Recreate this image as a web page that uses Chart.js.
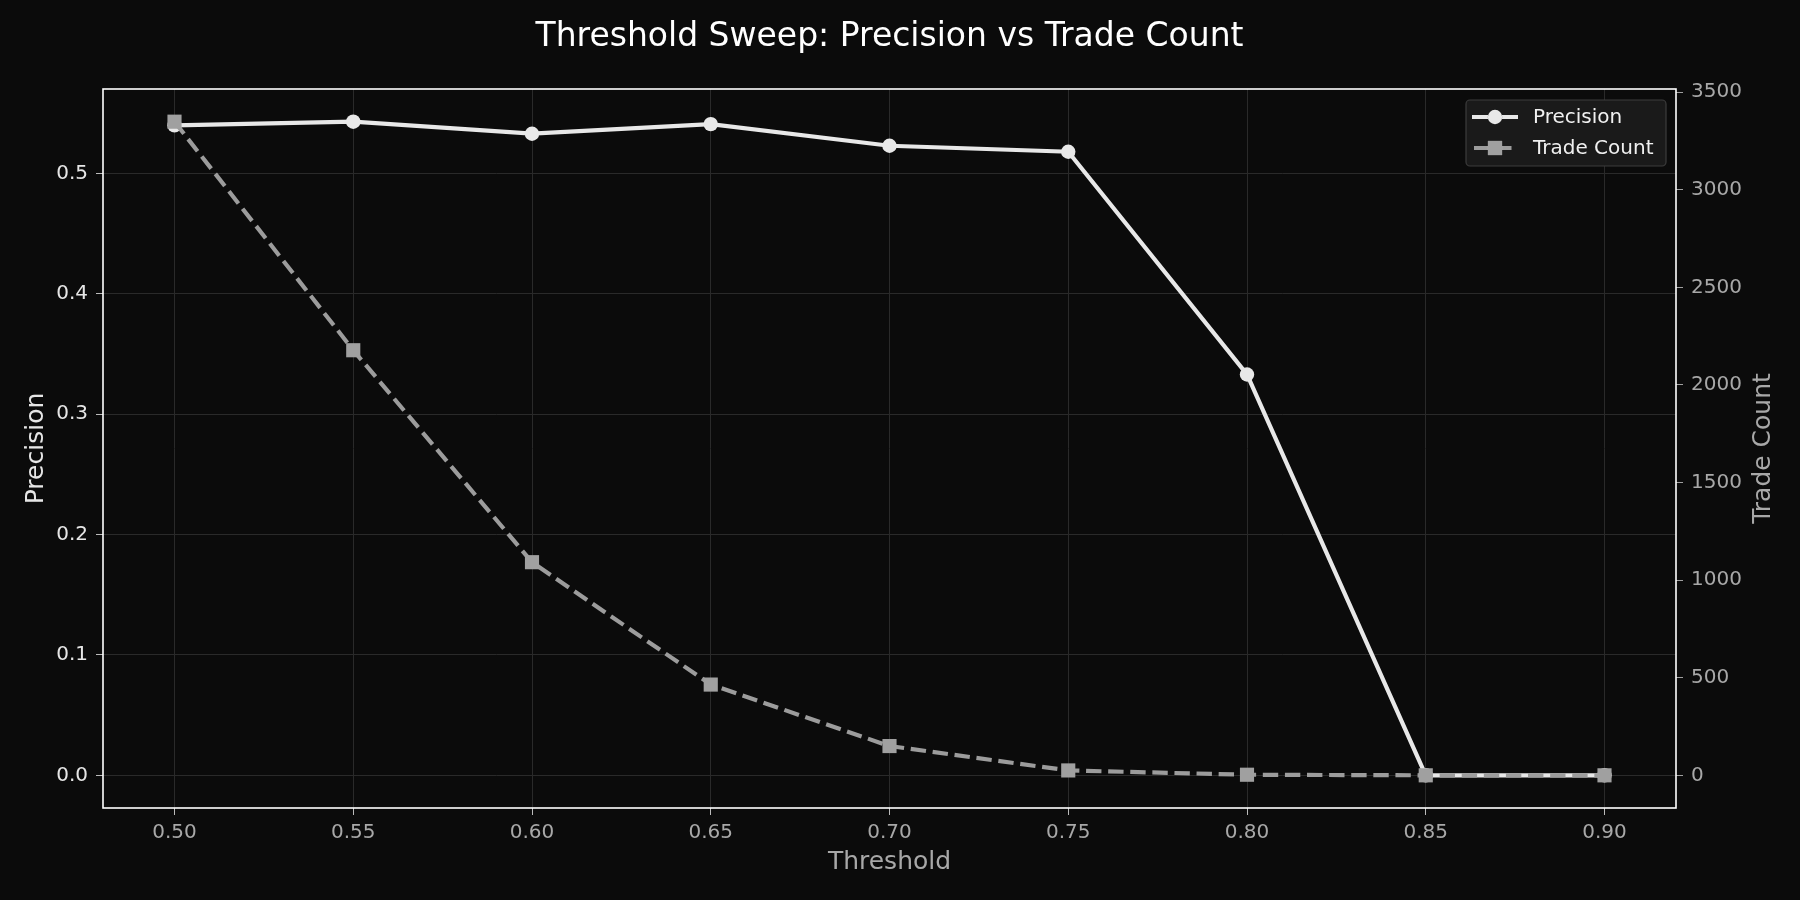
<!DOCTYPE html>
<html>
<head>
<meta charset="utf-8">
<script src="https://cdn.jsdelivr.net/npm/chart.js@4.4.1/dist/chart.umd.min.js"></script>
<style>
  html, body { margin: 0; padding: 0; background: #0b0b0b; }
  #wrap { width: 1800px; height: 900px; }
</style>
</head>
<body>
<div id="wrap"><canvas id="sweepChart" width="1800" height="900"></canvas></div>
<script>
const thresholds = [0.50, 0.55, 0.60, 0.65, 0.70, 0.75, 0.80, 0.85, 0.90];
const precision = [0.540, 0.543, 0.533, 0.541, 0.523, 0.518, 0.333, 0.0, 0.0];
const tradeCount = [3349, 2178, 1092, 465, 150, 25, 3, 0, 0];

const xTicks = [0.50, 0.55, 0.60, 0.65, 0.70, 0.75, 0.80, 0.85, 0.90];
const precisionTicks = [0.0, 0.1, 0.2, 0.3, 0.4, 0.5];
const countTicks = [0, 500, 1000, 1500, 2000, 2500, 3000, 3500];

const FONT = "'DejaVu Sans', sans-serif";
const GRID = '#2a2a2a';

// matplotlib style 5% margins
function padRange(vals) {
    const lo = Math.min(...vals), hi = Math.max(...vals);
    const m = (hi - lo) * 0.05;
    return { min: lo - m, max: hi + m };
}
const xr = padRange(thresholds);
const pr = padRange(precision);
const cr = padRange(tradeCount);

function toPoints(ys) {
    return thresholds.map((x, i) => ({ x, y: ys[i] }));
}

function fixedTicks(list) {
    return scale => { scale.ticks = list.map(v => ({ value: v })); };
}

// title centered over the plot area + right axis label reading upwards
const textPlugin = {
    id: 'extraText',
    afterDraw(chart) {
        const { ctx, chartArea } = chart;
        ctx.save();
        ctx.fillStyle = '#ffffff';
        ctx.font = `33px ${FONT}`;
        ctx.textAlign = 'center';
        ctx.textBaseline = 'middle';
        ctx.fillText('Threshold Sweep: Precision vs Trade Count', (chartArea.left + chartArea.right) / 2, 37);

        ctx.translate(1763, (chartArea.top + chartArea.bottom) / 2);
        ctx.rotate(-Math.PI / 2);
        ctx.fillStyle = '#a8a8a8';
        ctx.font = `25px ${FONT}`;
        ctx.fillText('Trade Count', 0, 0);
        ctx.restore();
    }
};

// white frame around the axes
const framePlugin = {
    id: 'frame',
    afterDatasetsDraw(chart) {
        const { ctx, chartArea: a } = chart;
        ctx.save();
        ctx.strokeStyle = '#ffffff';
        ctx.lineWidth = 1.6;
        ctx.strokeRect(a.left, a.top, a.right - a.left, a.bottom - a.top);
        ctx.restore();
    }
};

// legend with line + marker samples like matplotlib
const legendPlugin = {
    id: 'mplLegend',
    afterDraw(chart) {
        const { ctx, chartArea: a } = chart;
        const boxW = 200, boxH = 66;
        const x0 = a.right - 10 - boxW, y0 = a.top + 11;
        ctx.save();
        ctx.fillStyle = '#1a1a1a';
        ctx.strokeStyle = '#3c3c3c';
        ctx.lineWidth = 1.2;
        ctx.beginPath();
        ctx.roundRect(x0, y0, boxW, boxH, 4);
        ctx.fill();
        ctx.stroke();

        chart.data.datasets.forEach((ds, i) => {
            const cy = y0 + 17 + i * 31;
            const dashed = !!ds.borderDash;
            ctx.strokeStyle = ds.borderColor;
            ctx.lineWidth = ds.borderWidth;
            ctx.setLineDash(ds.borderDash || []);
            ctx.beginPath();
            ctx.moveTo(x0 + (dashed ? 8 : 6), cy);
            ctx.lineTo(x0 + (dashed ? 46 : 52), cy);
            ctx.stroke();
            ctx.setLineDash([]);
            Chart.helpers.drawPoint(ctx, {
                pointStyle: ds.pointStyle,
                radius: ds.pointRadius,
                borderWidth: 0,
                rotation: 0
            }, x0 + 29, cy);
            ctx.fillStyle = ds.pointBackgroundColor;
            ctx.fill();
            ctx.fillStyle = '#f0f0f0';
            ctx.font = `20px ${FONT}`;
            ctx.textAlign = 'left';
            ctx.textBaseline = 'middle';
            ctx.fillText(ds.label, x0 + 67, cy + 1);
        });
        ctx.restore();
    }
};

const canvas = document.getElementById('sweepChart');
const ctx = canvas.getContext('2d');

new Chart(ctx, {
    type: 'line',
    data: {
        datasets: [
            {
                label: 'Precision',
                data: toPoints(precision),
                yAxisID: 'yPrec',
                borderColor: '#e8e8e8',
                backgroundColor: '#e8e8e8',
                pointBackgroundColor: '#e8e8e8',
                pointBorderColor: '#e8e8e8',
                borderWidth: 4.2,
                pointRadius: 7.2,
                pointBorderWidth: 0,
                pointStyle: 'circle',
                tension: 0,
                order: 2
            },
            {
                label: 'Trade Count',
                data: toPoints(tradeCount),
                yAxisID: 'yCount',
                borderColor: '#9c9c9c',
                backgroundColor: '#a0a0a0',
                pointBackgroundColor: '#a0a0a0',
                pointBorderColor: '#a0a0a0',
                borderWidth: 4.2,
                borderDash: [15.4, 6.7],
                pointRadius: 10,
                pointBorderWidth: 0,
                pointStyle: 'rect',
                tension: 0,
                order: 1
            }
        ]
    },
    options: {
        responsive: false,
        animation: false,
        layout: { padding: { top: 89, left: 0, right: 0, bottom: 0 } },
        plugins: {
            legend: { display: false },
            tooltip: { enabled: false }
        },
        scales: {
            x: {
                type: 'linear',
                min: xr.min,
                max: xr.max,
                afterBuildTicks: fixedTicks(xTicks),
                afterFit: s => { s.height = 92; },
                grid: { color: GRID, lineWidth: 1, tickLength: 7, tickColor: '#bbbbbb' },
                border: { display: false },
                ticks: {
                    color: '#a8a8a8',
                    font: { family: FONT, size: 20 },
                    padding: 6,
                    maxRotation: 0,
                    callback: v => v.toFixed(2)
                },
                title: {
                    display: true,
                    text: 'Threshold',
                    color: '#a8a8a8',
                    font: { family: FONT, size: 25 },
                    padding: { top: 0, bottom: 23 }
                }
            },
            yPrec: {
                type: 'linear',
                position: 'left',
                min: pr.min,
                max: pr.max,
                afterBuildTicks: fixedTicks(precisionTicks),
                afterFit: s => { s.width = 103; },
                grid: { color: GRID, lineWidth: 1, tickLength: 7, tickColor: '#bbbbbb' },
                border: { display: false },
                ticks: {
                    color: '#e6e6e6',
                    font: { family: FONT, size: 20 },
                    padding: 8,
                    callback: v => v.toFixed(1)
                },
                title: {
                    display: true,
                    text: 'Precision',
                    color: '#e6e6e6',
                    font: { family: FONT, size: 25 },
                    padding: { top: 21, bottom: 0 }
                }
            },
            yCount: {
                type: 'linear',
                position: 'right',
                min: cr.min,
                max: cr.max,
                afterBuildTicks: fixedTicks(countTicks),
                afterFit: s => { s.width = 124; },
                grid: { drawOnChartArea: false, color: '#a0a0a0', tickLength: 7, tickColor: '#a0a0a0' },
                border: { display: false },
                ticks: {
                    color: '#a8a8a8',
                    font: { family: FONT, size: 20 },
                    padding: 8,
                    callback: v => String(v)
                },
                title: { display: false }
            }
        }
    },
    plugins: [framePlugin, legendPlugin, textPlugin]
});
</script>
</body>
</html>
